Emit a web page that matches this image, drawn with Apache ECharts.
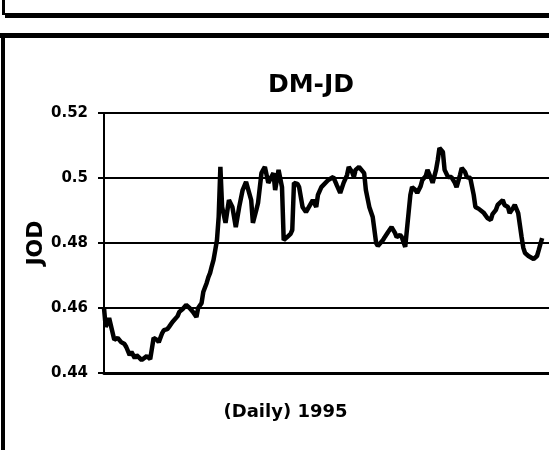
<!DOCTYPE html>
<html>
<head>
<meta charset="utf-8">
<script src="https://cdn.jsdelivr.net/npm/echarts@6/dist/echarts.min.js"></script>
<style>
  html, body { margin: 0; padding: 0; background: #fff; }
  #main { width: 549px; height: 450px; }
</style>
</head>
<body>
<div id="main"></div>
<script>
// trading day index in 1995 and DM-JD rate
var days = [0, 1, 3, 4, 6, 8, 10, 12, 13, 15, 16, 18, 19, 20, 22, 23, 25, 26, 27, 28,
  29, 31, 32, 34, 35, 37, 38, 40, 41, 43, 44, 46, 48, 50, 51, 52, 54, 55, 57, 58,
  60, 61, 62, 63, 64, 65, 66, 67, 68, 69, 71, 73, 75, 77, 79, 81, 83, 84, 86, 87,
  89, 90, 92, 93, 94, 96, 99, 100, 102, 104, 105, 106, 107, 109, 110, 111, 113, 114, 116, 118,
  119, 121, 122, 124, 125, 127, 128, 131, 132, 134, 136, 138, 140, 142, 143, 145, 146, 147, 149, 150,
  152, 153, 155, 157, 159, 160, 161, 163, 164, 166, 168, 170, 171, 173, 174, 176, 178, 179, 180, 182,
  183, 185, 186, 188, 189, 191, 192, 194, 195, 196, 198, 199, 201, 202, 203, 205, 206, 208, 209, 211,
  212, 214, 215, 216, 217, 219, 220, 222, 223, 224, 226, 227, 229, 230, 233, 234, 236, 237, 239, 240,
  242, 243, 244, 245, 246, 248, 249, 251, 252, 253, 254, 255, 256];
var rates = [0.4600, 0.4542, 0.4569, 0.4563, 0.4502, 0.4508, 0.4495, 0.4489, 0.4480, 0.4455,
  0.4465, 0.4446, 0.4455, 0.4449, 0.4440, 0.4446, 0.4452, 0.4455, 0.4443, 0.4446,
  0.4508, 0.4502, 0.4495, 0.4523, 0.4532, 0.4535, 0.4542, 0.4557, 0.4563, 0.4575,
  0.4588, 0.4597, 0.4609, 0.4600, 0.4594, 0.4588, 0.4572, 0.4600, 0.4615, 0.4649,
  0.4677, 0.4695, 0.4708, 0.4729, 0.4748, 0.4778, 0.4809, 0.4880, 0.5034, 0.4911,
  0.4862, 0.4932, 0.4911, 0.4849, 0.4911, 0.4963, 0.4988, 0.4994, 0.4932, 0.4862,
  0.4902, 0.4923, 0.5015, 0.5025, 0.5034, 0.4985, 0.5015, 0.4963, 0.5025, 0.4972,
  0.4809, 0.4815, 0.4818, 0.4828, 0.4840, 0.4985, 0.4982, 0.4972, 0.4911, 0.4895,
  0.4892, 0.4923, 0.4932, 0.4911, 0.4948, 0.4972, 0.4978, 0.4994, 0.5000, 0.5003,
  0.4978, 0.4954, 0.4985, 0.5009, 0.5034, 0.5018, 0.5003, 0.5025, 0.5034, 0.5031,
  0.5015, 0.4963, 0.4911, 0.4880, 0.4800, 0.4791, 0.4785, 0.4809, 0.4818, 0.4834,
  0.4849, 0.4831, 0.4818, 0.4825, 0.4818, 0.4788, 0.4895, 0.4948, 0.4972, 0.4963,
  0.4954, 0.4975, 0.4994, 0.5006, 0.5025, 0.5000, 0.4985, 0.5025, 0.5055, 0.5092,
  0.5080, 0.5025, 0.5003, 0.5009, 0.5003, 0.4985, 0.4972, 0.5009, 0.5031, 0.5018,
  0.5003, 0.5000, 0.4994, 0.4948, 0.4911, 0.4905, 0.4902, 0.4892, 0.4895, 0.4877,
  0.4871, 0.4889, 0.4902, 0.4917, 0.4932, 0.4917, 0.4911, 0.4892, 0.4908, 0.4917,
  0.4892, 0.4855, 0.4818, 0.4785, 0.4769, 0.4760, 0.4763, 0.4751, 0.4748, 0.4760,
  0.4778, 0.4797, 0.4815];
var yTicks = [0.44, 0.46, 0.48, 0.5, 0.52];

var points = [];
for (var i = 0; i < days.length; i++) {
  points.push([days[i], rates[i]]);
}

// wide bold face, the scan looks stretched sideways
var font = '"DejaVu Sans", "Liberation Sans", Arial, sans-serif';
var myChart = echarts.init(document.getElementById('main'));
myChart.setOption({
  backgroundColor: '#fff',
  animation: false,
  title: {
    text: 'DM-JD',
    left: 306,
    top: 68,
    textAlign: 'center',
    textStyle: { fontFamily: font, fontSize: 25, fontWeight: 'bold', color: '#000' }
  },
  grid: { left: 104, right: 0, top: 113, bottom: 77 },
  xAxis: {
    type: 'value',
    min: 0,
    max: 260,
    name: '(Daily) 1995',
    nameLocation: 'middle',
    nameGap: 30,
    nameTextStyle: { fontFamily: font, fontSize: 18, fontWeight: 'bold', color: '#000', padding: [0, 82, 0, 0] },
    axisLine: { lineStyle: { color: '#000', width: 3 } },
    axisTick: { show: false },
    axisLabel: { show: false },
    splitLine: { show: false }
  },
  yAxis: {
    type: 'value',
    min: yTicks[0],
    max: yTicks[yTicks.length - 1],
    interval: 0.02,
    name: 'JOD',
    nameLocation: 'middle',
    nameGap: 57,
    nameMoveOverlap: false,
    nameRotate: 90,
    nameTextStyle: { fontFamily: font, fontSize: 22, fontWeight: 'bold', color: '#000' },
    axisLine: { show: true, lineStyle: { color: '#000', width: 2 } },
    axisTick: { show: true, length: 6, lineStyle: { color: '#000', width: 2 } },
    axisLabel: { fontFamily: font, fontSize: 15, fontWeight: 'bold', color: '#000', margin: 16 },
    splitLine: { lineStyle: { color: '#000', width: 2 } }
  },
  graphic: [
    { type: 'rect', shape: { x: 5, y: 13, width: 544, height: 5 }, style: { fill: '#000' } },
    { type: 'rect', shape: { x: 0, y: 33, width: 549, height: 5 }, style: { fill: '#000' } },
    { type: 'rect', shape: { x: 2, y: 0, width: 3, height: 15 }, style: { fill: '#000' } },
    { type: 'rect', shape: { x: 1, y: 38, width: 4, height: 412 }, style: { fill: '#000' } }
  ],
  series: [{
    type: 'line',
    data: points,
    showSymbol: false,
    lineStyle: { color: '#000', width: 4.5 },
    z: 3
  }]
});
</script>
</body>
</html>
